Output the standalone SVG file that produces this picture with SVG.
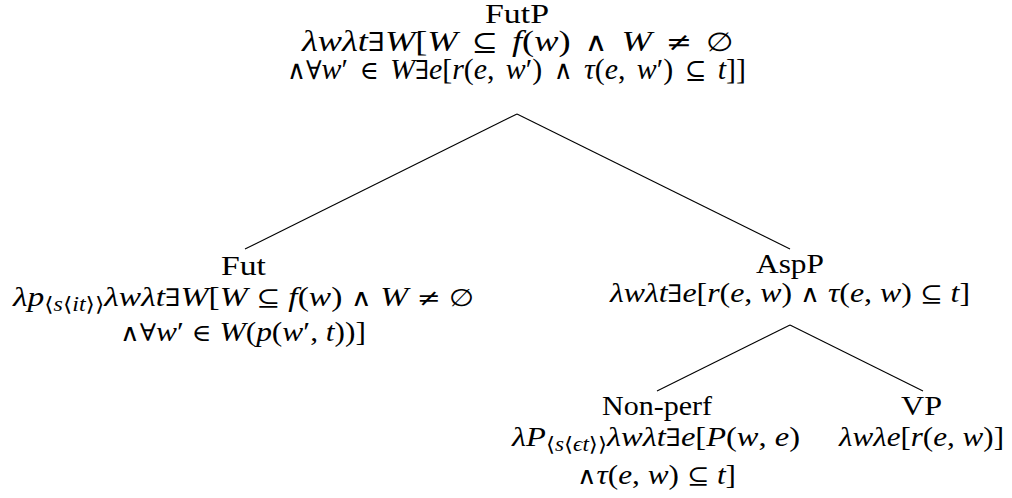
<svg xmlns="http://www.w3.org/2000/svg" width="1012" height="498" viewBox="0 0 1012 498">
<style>
text{font-family:"Liberation Serif","DejaVu Serif",serif;font-size:28px;fill:#000}
.i{font-style:italic}
.s{font-size:20px}
.y{font-family:"DejaVu Serif",serif;font-size:24px}
.top{font-size:30px;word-spacing:4px}
.top .y{font-size:26px}
.edges line{stroke:#000;stroke-width:1.1}
</style>
<rect width="1012" height="498" fill="#fff"/>
<g class="edges" id="connectors">
<line x1="517" y1="114" x2="245" y2="249"/>
<line x1="517" y1="114" x2="790" y2="249"/>
<line x1="790" y1="325" x2="657" y2="391"/>
<line x1="790" y1="325" x2="923" y2="391"/>
</g>
<g id="futp">
<text x="485" y="23" textLength="64" lengthAdjust="spacingAndGlyphs">FutP</text>
<text class="top" x="302" y="51" textLength="432" lengthAdjust="spacingAndGlyphs"><tspan class="i">λwλt</tspan><tspan class="y">∃</tspan><tspan class="i">W</tspan>[<tspan class="i">W</tspan> <tspan class="y">⊆</tspan> <tspan class="i">f</tspan>(<tspan class="i">w</tspan>) <tspan class="y">∧</tspan> <tspan class="i">W</tspan> <tspan class="y">≠</tspan> <tspan class="y">∅</tspan></text>
<text class="top" x="287" y="79" textLength="459" lengthAdjust="spacingAndGlyphs"><tspan class="y">∧∀</tspan><tspan class="i">w</tspan>′ <tspan class="y">∈</tspan> <tspan class="i">W</tspan><tspan class="y">∃</tspan><tspan class="i">e</tspan>[<tspan class="i">r</tspan>(<tspan class="i">e</tspan>, <tspan class="i">w</tspan>′) <tspan class="y">∧</tspan> <tspan class="i">τ</tspan>(<tspan class="i">e</tspan>, <tspan class="i">w</tspan>′) <tspan class="y">⊆</tspan> <tspan class="i">t</tspan>]]</text>
</g>
<g id="fut">
<text x="221" y="275" textLength="45" lengthAdjust="spacingAndGlyphs">Fut</text>
<text x="13" y="306" textLength="461" lengthAdjust="spacingAndGlyphs"><tspan class="i">λp</tspan><tspan class="s" dy="5">⟨<tspan class="i">s</tspan>⟨<tspan class="i">it</tspan>⟩⟩</tspan><tspan class="i" dy="-5">λwλt</tspan><tspan class="y">∃</tspan><tspan class="i">W</tspan>[<tspan class="i">W</tspan> <tspan class="y">⊆</tspan> <tspan class="i">f</tspan>(<tspan class="i">w</tspan>) <tspan class="y">∧</tspan> <tspan class="i">W</tspan> <tspan class="y">≠</tspan> <tspan class="y">∅</tspan></text>
<text x="120" y="341" textLength="246" lengthAdjust="spacingAndGlyphs"><tspan class="y">∧∀</tspan><tspan class="i">w</tspan>′ <tspan class="y">∈</tspan> <tspan class="i">W</tspan>(<tspan class="i">p</tspan>(<tspan class="i">w</tspan>′, <tspan class="i">t</tspan>))]</text>
</g>
<g id="aspp">
<text x="756" y="273" textLength="68" lengthAdjust="spacingAndGlyphs">AspP</text>
<text x="610" y="302" textLength="360" lengthAdjust="spacingAndGlyphs"><tspan class="i">λwλt</tspan><tspan class="y">∃</tspan><tspan class="i">e</tspan>[<tspan class="i">r</tspan>(<tspan class="i">e</tspan>, <tspan class="i">w</tspan>) <tspan class="y">∧</tspan> <tspan class="i">τ</tspan>(<tspan class="i">e</tspan>, <tspan class="i">w</tspan>) <tspan class="y">⊆</tspan> <tspan class="i">t</tspan>]</text>
</g>
<g id="nonperf">
<text x="602" y="415" textLength="110" lengthAdjust="spacingAndGlyphs">Non-perf</text>
<text x="512" y="446" textLength="288" lengthAdjust="spacingAndGlyphs"><tspan class="i">λP</tspan><tspan class="s" dy="5">⟨<tspan class="i">s</tspan>⟨<tspan class="i">ϵt</tspan>⟩⟩</tspan><tspan class="i" dy="-5">λwλt</tspan><tspan class="y">∃</tspan><tspan class="i">e</tspan>[<tspan class="i">P</tspan>(<tspan class="i">w</tspan>, <tspan class="i">e</tspan>)</text>
<text x="577" y="484" textLength="159" lengthAdjust="spacingAndGlyphs"><tspan class="y">∧</tspan><tspan class="i">τ</tspan>(<tspan class="i">e</tspan>, <tspan class="i">w</tspan>) <tspan class="y">⊆</tspan> <tspan class="i">t</tspan>]</text>
</g>
<g id="vp">
<text x="901" y="415" textLength="41" lengthAdjust="spacingAndGlyphs">VP</text>
<text x="839" y="446" textLength="165" lengthAdjust="spacingAndGlyphs"><tspan class="i">λwλe</tspan>[<tspan class="i">r</tspan>(<tspan class="i">e</tspan>, <tspan class="i">w</tspan>)]</text>
</g>
</svg>
